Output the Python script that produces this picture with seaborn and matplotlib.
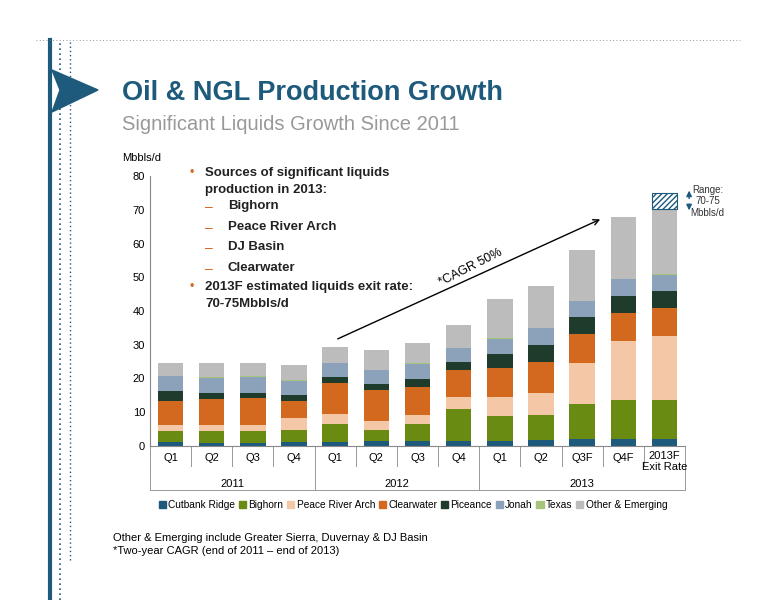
import matplotlib
matplotlib.use("Agg")
import matplotlib.pyplot as plt
import seaborn as sns
import numpy as np
import pandas as pd
from matplotlib.patches import Rectangle

quarters = ["Q1","Q2","Q3","Q4","Q1","Q2","Q3","Q4","Q1","Q2","Q3F","Q4F","2013F\nExit Rate"]
years = ["2011","2012","2013"]
series = ["Cutbank Ridge","Bighorn","Peace River Arch","Clearwater","Piceance","Jonah","Texas","Other & Emerging"]
colors = ["#1d5a7c","#6a8b12","#f4c7a6","#d2691f","#1f3b2c","#8ba2ba","#a7c47d","#bcbcbc"]
# cumulative tops
cutbank  = [1.1,1.0,0.8,1.2,1.2,1.5,1.5,1.5,1.5,1.8,2.0,2.0,2.2]
bighorn  = [4.5,4.5,4.5,4.7,6.6,4.8,6.5,10.9,9.0,9.2,12.4,13.6,13.6]
pra      = [6.2,6.2,6.2,8.2,9.4,7.4,9.2,14.4,14.5,15.6,24.7,31.0,32.6]
clearw   = [13.3,14.0,14.2,13.2,18.7,16.5,17.4,22.5,23.0,24.9,33.1,39.3,40.9]
piceance = [16.2,15.8,15.8,15.2,20.3,18.4,20.0,25.0,27.3,29.9,38.1,44.5,45.9]
jonah    = [20.6,20.2,20.5,19.2,24.6,22.5,24.4,29.0,31.8,35.0,43.0,49.4,50.8]
texas    = [20.8,20.4,20.7,19.7,24.7,22.6,24.5,29.1,31.9,35.1,43.1,49.5,50.9]
other    = [24.5,24.5,24.5,24.0,29.4,28.3,30.5,36.0,43.5,47.5,58.0,67.8,70.1]
range_top = 75
layers = [cutbank,bighorn,pra,clearw,piceance,jonah,texas,other]

plt.rcParams['font.family'] = ['Liberation Sans', 'DejaVu Sans']
fig = plt.figure(figsize=(7.76,6.0), dpi=100)
fig.patch.set_facecolor("white")
ax = fig.add_axes([150/776, 154/600, 535/776, 270/600])
keys = [str(i) for i in range(len(quarters))]
for name, vals, c in reversed(list(zip(series, layers, colors))):
    df = pd.DataFrame({"k": keys, "v": vals})
    sns.barplot(data=df, x="k", y="v", color=c, width=0.62, ax=ax, saturation=1, order=keys, label=name)
ax.add_patch(Rectangle((12-0.31, other[-1]), 0.62, range_top-other[-1], facecolor="white", edgecolor="#1d5a7c", hatch="//////", lw=0.8))
ax.set_xlim(-0.5, 12.5)
ax.set_ylim(0, 80)
ax.set_yticks(range(0, 81, 10))
ax.tick_params(axis="y", labelsize=8, length=0)
ax.set_xticks([]); ax.set_xlabel(""); ax.set_ylabel("")
if ax.get_legend(): ax.get_legend().remove()
for s in ["top","right"]:
    ax.spines[s].set_visible(False)
ax.spines["left"].set_color("#888"); ax.spines["bottom"].set_color("#888")
fig.text(122/776, 1-158/600, "Mbbls/d", fontsize=8, va="center", ha="left")

tr = ax.get_xaxis_transform()
def yax(py): return -(py-446)/270
for i in range(14):
    ax.plot([i-0.5, i-0.5], [0, yax(466)], transform=tr, color="#999", lw=0.7, clip_on=False)
for i, q in enumerate(quarters):
    if "\n" in q:
        ax.text(i, yax(451), q, transform=tr, ha="center", va="top", fontsize=8, linespacing=1.1)
    else:
        ax.text(i, yax(458), q, transform=tr, ha="center", va="center", fontsize=8)
for xb in [-0.5, 3.5, 7.5, 12.5]:
    ax.plot([xb, xb], [yax(466), yax(490)], transform=tr, color="#999", lw=0.7, clip_on=False)
ax.plot([-0.5, 12.5], [yax(490), yax(490)], transform=tr, color="#999", lw=0.7, clip_on=False)
for yr, xc in zip(years, [1.5, 5.5, 10]):
    ax.text(xc, yax(484), yr, transform=tr, ha="center", va="center", fontsize=8)

ax.annotate("", xy=(10.5, 67.5), xytext=(4.0, 31.4), arrowprops=dict(arrowstyle="->", color="black", lw=1))
ax.text(7.3, 53, "*CAGR 50%", rotation=27, fontsize=9, ha="center", va="center")
ax.annotate("", xy=(12.6, 76.5), xytext=(12.6, 72.5), arrowprops=dict(arrowstyle="-|>", color="#1d5a7c", lw=1, mutation_scale=8), annotation_clip=False)
ax.annotate("", xy=(12.6, 69.0), xytext=(12.6, 72.5), arrowprops=dict(arrowstyle="-|>", color="#1d5a7c", lw=1, mutation_scale=8), annotation_clip=False)
ax.text(13.05, 72.5, "Range:\n70-75\nMbbls/d", fontsize=7, ha="center", va="center", color="#333")

items = [("Sources of significant liquids\nproduction in 2013:", 0), ("Bighorn", 1), ("Peace River Arch", 1),
         ("DJ Basin", 1), ("Clearwater", 1), ("2013F estimated liquids exit rate:\n70-75Mbbls/d", 0)]
for (t, lvl), yv in zip(items, [167, 200, 221, 241, 262, 281]):
    if lvl == 0:
        fig.text(190/776, 1-yv/600, "•", color="#d2691f", fontsize=9, va="top")
        fig.text(205/776, 1-yv/600, t, fontsize=9.5, fontweight="bold", va="top", linespacing=1.55, color="#222")
    else:
        fig.text(205/776, 1-yv/600, "–", color="#d2691f", fontsize=10, va="top")
        fig.text(228/776, 1-yv/600, t, fontsize=9.5, fontweight="bold", va="top", color="#222")

handles = [Rectangle((0,0),1,1,color=c) for c in colors]
fig.legend(handles, series, loc="center", bbox_to_anchor=(413/776, 1-505/600), ncol=8, frameon=False,
           fontsize=7.3, handlelength=0.7, handleheight=0.7, handletextpad=0.25, columnspacing=0.35)

fig.text(122/776, 1-93/600, "Oil & NGL Production Growth", fontsize=19.5, fontweight="bold", color="#1d5a7c", va="center")
fig.text(122/776, 1-124/600, "Significant Liquids Growth Since 2011", fontsize=14.5, color="#999", va="center")
fig.text(113/776, 1-538/600, "Other & Emerging include Greater Sierra, Duvernay & DJ Basin", fontsize=8, va="center")
fig.text(113/776, 1-551/600, "*Two-year CAGR (end of 2011 – end of 2013)", fontsize=8, va="center")

fig.add_artist(plt.Line2D([50/776, 50/776], [0, 1-40/600], color="#1d5a7c", lw=3))
fig.add_artist(plt.Line2D([36/776, 740/776], [1-40/600, 1-40/600], color="#777", lw=0.6, ls=(0,(1,3))))
fig.add_artist(plt.Line2D([60/776, 60/776], [0, 1-40/600], color="#1d5a7c", lw=1.2, ls=(0,(1,2))))
fig.add_artist(plt.Line2D([70/776, 70/776], [1-560/600, 1-40/600], color="#1d5a7c", lw=1, ls=(0,(1,2))))
fig.add_artist(plt.Polygon([[52/776, 1-70/600],[98/776, 1-90/600],[52/776, 1-112/600],[60/776,1-90/600]], closed=True, color="#1d5a7c"))

fig.savefig("out.png", dpi=100)
